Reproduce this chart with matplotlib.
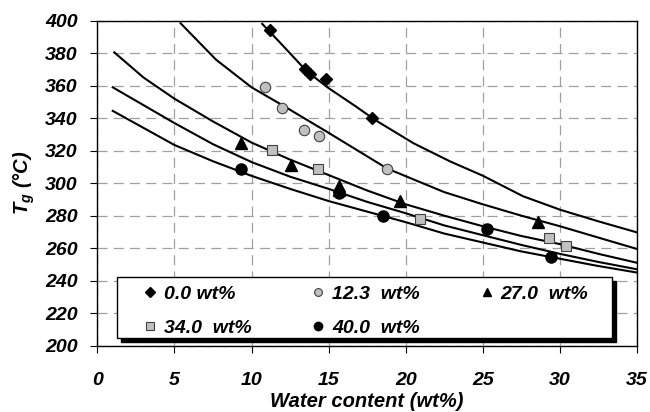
import numpy as np
import matplotlib
matplotlib.use("Agg")
import matplotlib.pyplot as plt
from matplotlib.patches import Rectangle

plt.rcParams['font.family'] = ['Liberation Sans', 'DejaVu Sans']
plt.rcParams['mathtext.fontset'] = 'custom'
plt.rcParams['mathtext.it'] = 'Liberation Sans:italic:bold'
plt.rcParams['mathtext.rm'] = 'Liberation Sans:bold'

# measured points (water content wt%, Tg in C)
x_00 = [11.2, 13.5, 13.8, 14.8, 17.8]
y_00 = [394, 370, 367, 364, 340]
x_123 = [10.9, 12.0, 13.4, 14.4, 18.8]
y_123 = [359, 346, 333, 329, 308.5]
x_270 = [9.3, 12.55, 15.7, 15.7, 19.6, 28.6]
y_270 = [325, 311, 298, 296, 289, 276]
x_340 = [11.3, 14.3, 20.9, 29.3, 30.4]
y_340 = [320.5, 308.5, 278, 266.5, 261.5]
x_400 = [9.3, 15.7, 18.5, 25.3, 29.4]
y_400 = [308.5, 294, 280, 272, 254.5]

labels = ['0.0 wt%', '12.3  wt%', '27.0  wt%', '34.0  wt%', '40.0  wt%']

# fitted curves
fit_x_a = [10.7, 12, 13.6, 15, 16.8, 18, 20.5, 22.9, 25, 27.6, 30, 32.5, 35]
fit_y_a = [398, 385, 368.7, 358.5, 347, 339, 324.6, 313.3, 304.6, 292, 283.7, 276.5, 269.7]
fit_x_b = [5.4, 7.7, 10, 12, 15, 18.8, 22.5, 25, 27.5, 30, 32.5, 35]
fit_y_b = [398.4, 376, 359, 348, 331, 309, 294.5, 287, 280, 273.5, 266.5, 259.5]
fit_x_c = [1.1, 3, 5, 7.5, 10, 12.5, 15, 17.5, 20, 22.5, 25, 27.5, 30, 32.5, 35]
fit_y_c = [380.5, 365, 352, 338, 325, 314.5, 305, 295.5, 287, 280, 273.5, 267.5, 262.5, 256.5, 251]
fit_x_d = [1, 3, 5, 7.5, 10, 12.5, 15, 17.5, 20, 22.5, 25, 27.5, 30, 32.5, 35]
fit_y_d = [359, 348, 337, 324, 313, 304, 296.5, 288.5, 281.5, 274, 268, 262, 256.5, 251.5, 247]
fit_x_e = [1, 3, 5, 7.5, 10, 12.5, 15, 17.5, 20, 22.5, 25, 27.5, 30, 32.5, 35]
fit_y_e = [344.5, 334, 323.5, 313.5, 304.5, 296.5, 289, 282.5, 276, 269, 263.5, 258, 253.5, 249, 245]

fig = plt.figure(figsize=(6.5, 4.12), dpi=100)
ax = fig.add_axes([0.1497, 0.161, 0.8303, 0.7888])

for fx, fy in [(fit_x_a, fit_y_a), (fit_x_b, fit_y_b), (fit_x_c, fit_y_c),
               (fit_x_d, fit_y_d), (fit_x_e, fit_y_e)]:
    ax.plot(fx, fy, color='black', lw=1.5, zorder=3)

h0, = ax.plot(x_00, y_00, 'D', ms=6.5, mfc='black', mec='black', ls='none', zorder=4)
h1, = ax.plot(x_123, y_123, 'o', ms=7.5, mfc='#c0c0c0', mec='#404040', mew=0.8, ls='none', zorder=4)
h2, = ax.plot(x_270, y_270, '^', ms=8, mfc='black', mec='black', ls='none', zorder=4)
h3, = ax.plot(x_340, y_340, 's', ms=7.5, mfc='#c0c0c0', mec='#404040', mew=0.8, ls='none', zorder=4)
h4, = ax.plot(x_400, y_400, 'o', ms=8, mfc='black', mec='black', ls='none', zorder=4)

ax.set_xlim(0, 35)
ax.set_ylim(200, 400)
ax.set_xticks(np.arange(0, 36, 5))
ax.set_yticks(np.arange(200, 401, 20))
ax.grid(True, color='#a0a0a0', lw=0.9, ls=(0, (8, 5)))
ax.set_axisbelow(True)
ax.tick_params(direction='out', length=5, width=0.8, labelsize=14)
ax.tick_params(axis='x', pad=14)
ax.tick_params(axis='y', pad=9)
for lab in ax.get_xticklabels() + ax.get_yticklabels():
    lab.set_fontweight('bold')
    lab.set_fontstyle('italic')
for sp in ax.spines.values():
    sp.set_linewidth(1.0)

ax.set_xlabel('Water content (wt%)', fontsize=14.5, fontweight='bold', fontstyle='italic', labelpad=2)
ax.set_ylabel(r'$T_g$ (°C)', fontsize=14.5, fontweight='bold', fontstyle='italic', labelpad=6)

# legend box with black drop shadow
ax.add_patch(Rectangle((0.0439, 0.0114), 0.917, 0.1877, transform=ax.transAxes,
                       facecolor='black', edgecolor='black', zorder=5))
ax.add_patch(Rectangle((0.0365, 0.0237), 0.917, 0.1877, transform=ax.transAxes,
                       facecolor='white', edgecolor='black', lw=1.0, zorder=6))

leg = ax.legend([h0, h3, h1, h4, h2],
                [labels[0], labels[3], labels[1], labels[4], labels[2]],
                ncol=3, loc='upper left', bbox_to_anchor=(0.0869, 0.186, 0.8229, 0.0),
                mode='expand', frameon=False, borderpad=0, borderaxespad=0,
                handlelength=0.6, handletextpad=0.42, markerscale=0.75,
                prop={'size': 14, 'weight': 'bold', 'style': 'italic'},
                labelspacing=0.85, columnspacing=1.0)
leg.set_zorder(7)

fig.savefig('out.png', dpi=100)
